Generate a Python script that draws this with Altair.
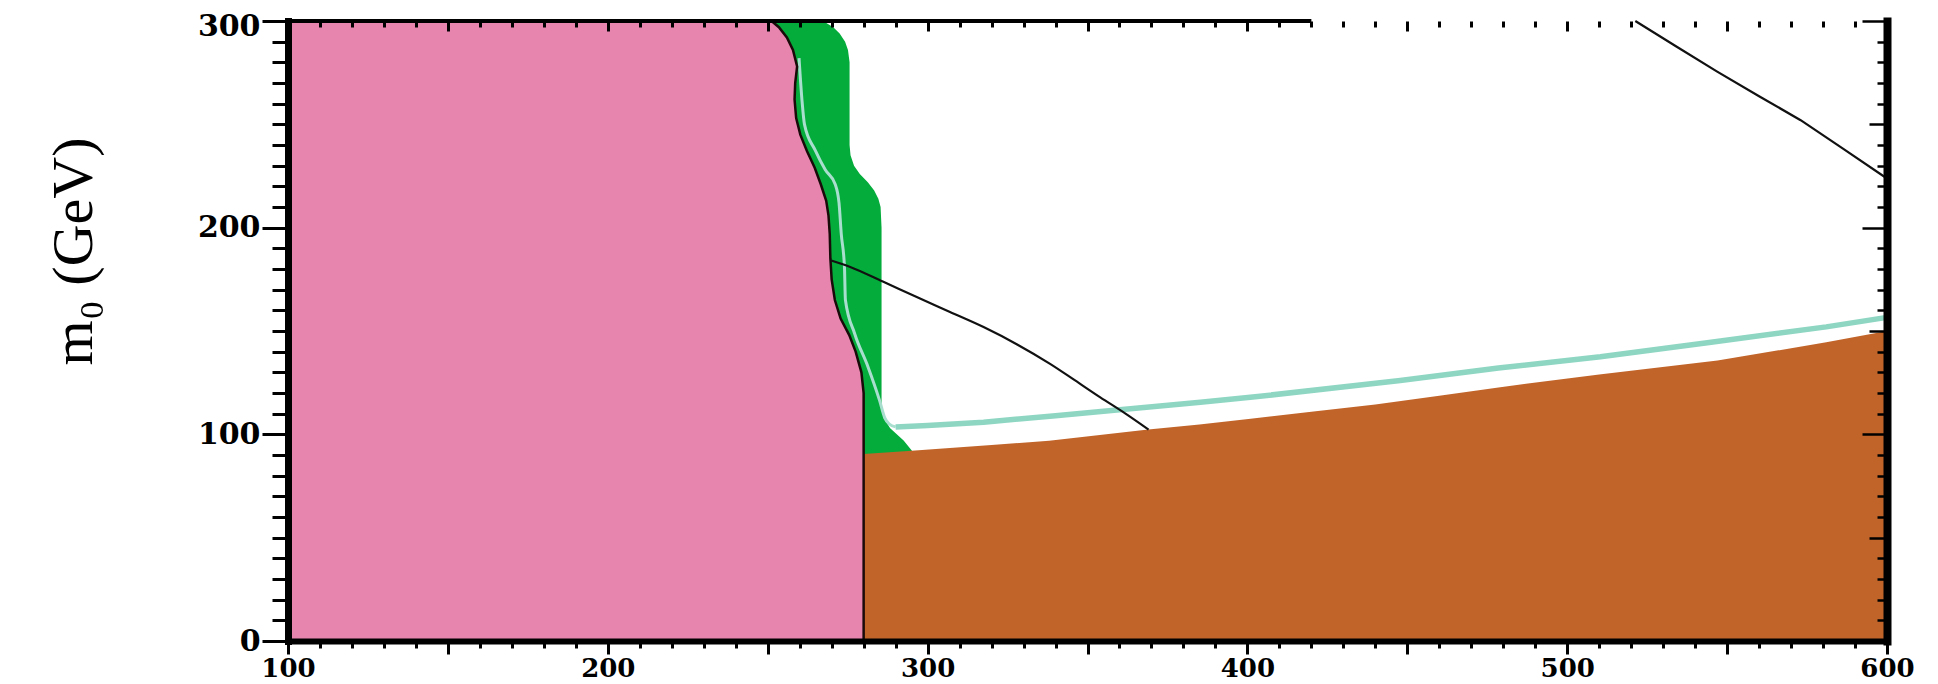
import altair as alt
import pandas as pd

# ---- data (x = m1/2 in GeV, y = m0 in GeV) ----
# pink excluded region: right boundary as a function of m0
pink_m0 = [0, 90, 120, 130, 140, 148, 156, 165, 175, 185, 197, 206, 213, 221, 229, 237, 245, 253, 262, 270, 278, 286, 292, 297, 300]
pink_x = [280, 280, 280, 279.3, 277.5, 275.5, 272.8, 271.0, 270.0, 269.6, 269.4, 269.0, 268.3, 266.6, 264.7, 262.3, 260.2, 258.9, 258.4, 258.6, 259.2, 257.9, 256.0, 253.5, 251.2]

# green band: right edge as a function of m0
green_m0 = [85, 92, 97, 103, 108, 113, 200, 210, 214, 218, 222, 226, 230, 235, 240, 280, 286, 290, 294, 297, 300]
green_x = [296.5, 295.1, 292.5, 288.3, 286.2, 285.6, 285.6, 285.3, 284.6, 283.3, 281.3, 278.8, 277.0, 275.9, 275.6, 275.6, 275.1, 274.2, 272.5, 270.5, 267.3]

# brown region: upper edge
brown_x = [280, 295, 320, 338, 369, 385, 401, 420, 440, 460, 478.5, 510, 547, 581, 600]
brown_m0 = [90.5, 92.1, 94.8, 96.9, 102.3, 104.7, 107.5, 110.9, 114.4, 118.7, 122.7, 129.0, 135.7, 144.5, 150.0]

# teal contour (thin part inside green band, then thick part)
teal_l_x = [259.8, 260.7, 261.5, 264.8, 268.0, 271.1, 272.3, 273.0, 274.0, 274.3, 277.2, 281.4, 285.0, 286.6, 288.0, 290.0]
teal_l_m0 = [282, 262, 250, 237.6, 228, 221, 212, 197, 181, 165, 148.7, 132.5, 116.3, 108, 105, 103.6]
teal_r_x = [290, 300, 317.5, 340, 359.2, 385.3, 400.9, 447.8, 478.5, 510.4, 545, 581, 600]
teal_r_m0 = [103.6, 104.3, 105.9, 109.0, 111.8, 115.5, 117.9, 126.0, 132.1, 137.5, 144.6, 152.0, 156.6]

# black contour in the middle
mid_x = [269.6, 275.8, 286, 296.6, 307, 317.5, 328, 338.3, 346, 354, 362, 369.1]
mid_m0 = [184.2, 181.0, 173.9, 166.4, 159.2, 151.9, 143.5, 134.1, 126.2, 117.9, 109.9, 102.3]

# black contour top right
tr_x = [521.3, 534, 546.9, 560, 573, 586, 600]
tr_m0 = [300, 287.8, 275.5, 263.6, 252.0, 238.5, 223.8]

# partial top frame line
top_line_x = [100, 420]
top_line_m0 = [300]

x_ticks = list(range(100, 601, 10))
y_ticks = list(range(0, 301, 10))

PINK = "#E785AE"
GREEN = "#04AC3B"
BROWN = "#C1642A"
TEAL = "#8ED6C2"
TEAL_LIGHT = "#A8DECD"

xs = alt.Scale(domain=[100, 600], nice=False, zero=False)
ys = alt.Scale(domain=[0, 300], nice=False, zero=False)

left_axis = alt.Axis(
    orient="left",
    values=y_ticks,
    labelExpr="datum.value % 100 === 0 ? datum.label : ''",
    tickSize={"condition": {"test": "datum.value % 100 === 0", "value": 26}, "value": 16},
    tickWidth=3, tickColor="black",
    domainWidth=7, domainColor="black", domainCap="square",
    labelFont="DejaVu Serif", labelFontWeight="bold", labelFontSize=30, labelColor="black",
    labelOffset={"condition": {"test": "datum.value === 300", "value": 5}, "value": 0},
    labelPadding=2, labelFlush=False, labelOverlap=False,
    title="m₀ (GeV)", titleFont="Liberation Serif", titleFontSize=58, titleFontWeight="normal",
    titleColor="black", titleAngle=270, titleX=-214, titleY=230,
    titleAlign="center", titleBaseline="middle",
    grid=False, zindex=1,
)
bottom_axis = alt.Axis(
    orient="bottom",
    values=x_ticks,
    labelExpr="datum.value % 100 === 0 ? datum.label : ''",
    tickSize={"condition": {"test": "datum.value % 50 === 0", "value": 13}, "value": 7},
    tickWidth=3, tickColor="black",
    domainWidth=6, domainColor="black", domainCap="square",
    labelFont="DejaVu Serif", labelFontWeight="bold", labelFontSize=26, labelColor="black",
    labelBaseline="alphabetic", labelPadding=22, labelFlush=False, labelOverlap=False,
    title=None, grid=False, zindex=1,
)
right_axis = alt.Axis(
    orient="right", values=y_ticks, labels=False, title=None, grid=False,
    tickSize={"condition": [{"test": "datum.value % 100 === 0", "value": -25},
                            {"test": "datum.value % 50 === 0", "value": -18}], "value": -10},
    tickWidth=2.5, tickColor="black",
    domainWidth=8, domainColor="black", domainCap="square", zindex=1,
)
top_axis = alt.Axis(
    orient="top", values=x_ticks, labels=False, title=None, grid=False, domain=False,
    tickSize={"condition": {"test": "datum.value % 50 === 0", "value": -10}, "value": -6},
    tickWidth=3, tickColor="black", zindex=1,
)

pink_df = pd.DataFrame({"m0": pink_m0, "x": pink_x, "xl": 100, "i": range(len(pink_m0))})
green_df = pd.DataFrame({"m0": green_m0, "x": green_x, "xl": 100})
brown_df = pd.DataFrame({"x": brown_x, "m0": brown_m0})
teal_l_df = pd.DataFrame({"x": teal_l_x, "m0": teal_l_m0, "i": range(len(teal_l_x))})
teal_r_df = pd.DataFrame({"x": teal_r_x, "m0": teal_r_m0, "i": range(len(teal_r_x))})
mid_df = pd.DataFrame({"x": mid_x, "m0": mid_m0, "i": range(len(mid_x))})
tr_df = pd.DataFrame({"x": tr_x, "m0": tr_m0, "i": range(len(tr_x))})
top_df = pd.DataFrame({"x0": [top_line_x[0]], "x1": [top_line_x[1]], "m0": top_line_m0})

green = alt.Chart(green_df).mark_area(orient="horizontal", color=GREEN).encode(
    y=alt.Y("m0:Q", scale=ys, axis=None),
    x=alt.X("x:Q", scale=xs, axis=None),
    x2="xl:Q",
)
pink = alt.Chart(pink_df).mark_area(orient="horizontal", color=PINK).encode(
    y=alt.Y("m0:Q", scale=ys, axis=left_axis),
    x=alt.X("x:Q", scale=xs, axis=bottom_axis),
    x2="xl:Q",
)
brown = alt.Chart(brown_df).mark_area(color=BROWN).encode(
    x=alt.X("x:Q", scale=xs, axis=None),
    y=alt.Y("m0:Q", scale=ys, axis=None),
)
teal_l = alt.Chart(teal_l_df).mark_line(color=TEAL_LIGHT, strokeWidth=3, interpolate="monotone").encode(
    x=alt.X("x:Q", scale=xs, axis=None),
    y=alt.Y("m0:Q", scale=ys, axis=None),
    order="i:Q",
)
teal_r = alt.Chart(teal_r_df).mark_line(color=TEAL, strokeWidth=5.5).encode(
    x=alt.X("x:Q", scale=xs, axis=None),
    y=alt.Y("m0:Q", scale=ys, axis=None),
    order="i:Q",
)
pink_edge = alt.Chart(pink_df).mark_line(color="#1a0a0a", strokeWidth=2.5).encode(
    x=alt.X("x:Q", scale=xs, axis=None),
    y=alt.Y("m0:Q", scale=ys, axis=None),
    order="i:Q",
)
mid_line = alt.Chart(mid_df).mark_line(color="#111111", strokeWidth=2.2, interpolate="monotone").encode(
    x=alt.X("x:Q", scale=xs, axis=None),
    y=alt.Y("m0:Q", scale=ys, axis=None),
    order="i:Q",
)
tr_line = alt.Chart(tr_df).mark_line(color="#111111", strokeWidth=2.2).encode(
    x=alt.X("x:Q", scale=xs, axis=None),
    y=alt.Y("m0:Q", scale=ys, axis=None),
    order="i:Q",
)
frame = alt.Chart(top_df).mark_rule(color="black", strokeWidth=4).encode(
    x=alt.X("x0:Q", scale=xs, axis=top_axis),
    x2="x1:Q",
    y=alt.Y("m0:Q", scale=ys, axis=right_axis),
)

chart = alt.layer(
    green, pink, brown, teal_l, teal_r, pink_edge, mid_line, tr_line, frame
).resolve_scale(
    x="independent", y="independent"
).properties(
    width=1599, height=620,
    autosize=alt.AutoSizeParams(type="none"),
    padding={"left": 280, "top": 13, "right": 40, "bottom": 43},
    background="white",
).configure_view(stroke=None)

chart.save("out.html", embed_options={"renderer": "svg", "actions": False})
